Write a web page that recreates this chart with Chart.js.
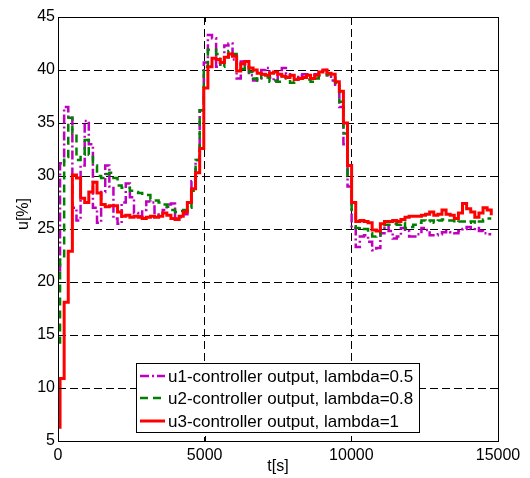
<!DOCTYPE html>
<html>
<head>
<meta charset="utf-8">
<script src="https://cdn.jsdelivr.net/npm/chart.js@4.4.1/dist/chart.umd.min.js"></script>
<style>
  html, body { margin: 0; padding: 0; background: #fff; }
  #wrap { width: 530px; height: 478px; }
</style>
</head>
<body>
<div id="wrap"><canvas id="chart" width="530" height="478"></canvas></div>
<script>
// controller outputs, sampled every 140 s (first hold is 70 s)
const u1 = [
  21.1, 31.2, 36.5, 35.5, 27.0, 25.8, 31.0, 35.2, 33.0, 27.0,
  25.6, 28.5, 31.0, 29.0, 26.0, 25.5, 27.5, 29.3, 28.0, 26.5,
  26.2, 26.8, 27.6, 27.5, 26.5, 26.3, 26.8, 27.3, 27.4, 26.0,
  26.1, 26.4, 27.5, 29.5, 31.5, 36.2, 40.7, 43.3, 43.0, 40.3,
  40.7, 42.3, 42.5, 41.0, 39.2, 40.8, 40.3, 39.5, 39.0, 39.2,
  40.0, 40.2, 39.3, 38.9, 39.5, 40.2, 39.6, 39.5, 39.3, 39.5,
  39.6, 39.6, 39.4, 39.6, 39.9, 40.0, 39.5, 39.0, 38.6, 36.5,
  33.0, 29.0, 25.1, 23.3, 24.3, 24.4, 23.8, 23.0, 23.2, 24.6,
  25.2, 24.8, 24.1, 24.3, 25.1, 24.8, 24.3, 24.3, 24.5, 25.1,
  24.9, 24.4, 24.4, 24.5, 24.7, 24.8, 24.7, 24.6, 24.8, 25.0,
  25.2, 25.0, 25.1, 24.8, 24.6, 24.5, 24.5
];
const u2 = [
  14.3, 22.3, 31.8, 35.5, 34.0, 31.5, 32.0, 33.4, 32.0, 31.0,
  30.0, 29.8, 30.2, 30.3, 29.8, 29.1, 28.9, 28.9, 28.6, 28.5,
  28.4, 28.2, 28.2, 27.8, 27.7, 27.5, 27.3, 27.1, 26.8, 26.6,
  26.7, 26.8, 27.0, 28.6, 31.5, 36.2, 40.3, 41.9, 41.9, 41.5,
  40.3, 41.2, 41.8, 41.5, 40.0, 40.1, 40.3, 39.8, 39.2, 39.0,
  39.6, 39.3, 38.9, 39.0, 38.9, 39.4, 39.2, 38.8, 38.9, 39.2,
  39.2, 39.1, 38.9, 39.2, 39.5, 39.5, 39.6, 39.5, 38.8, 37.0,
  34.0, 30.0, 26.5, 25.1, 25.2, 25.0, 24.6, 24.3, 24.4, 25.0,
  25.4, 25.4, 25.5, 25.4, 25.6, 25.1, 25.2, 25.4, 25.6, 25.8,
  25.7, 25.8, 25.6, 25.8, 25.9, 25.8, 25.8, 25.6, 25.7, 25.7,
  25.6, 25.7, 25.5, 25.7, 25.9, 26.0, 26.0
];
const u3 = [
   6.3, 10.9, 18.1, 22.9, 30.1, 29.8, 27.9, 27.5, 28.5, 29.4,
  28.4, 27.3, 27.1, 27.2, 27.2, 26.6, 26.2, 26.3, 26.1, 26.2,
  26.1, 26.0, 26.1, 26.2, 26.1, 26.2, 26.5, 26.3, 26.0, 25.9,
  26.2, 26.6, 27.5, 28.8, 30.3, 32.6, 38.3, 40.3, 41.1, 41.0,
  40.7, 41.2, 41.5, 41.3, 39.9, 40.6, 40.8, 40.2, 40.0, 39.7,
  39.6, 39.5, 39.7, 39.8, 39.6, 39.4, 39.3, 39.5, 39.1, 39.2,
  39.3, 39.5, 39.2, 39.5, 39.8, 40.0, 39.7, 39.6, 38.9, 38.0,
  35.0, 31.0, 27.5, 25.7, 25.8, 25.7, 25.6, 24.9, 24.8, 25.5,
  25.7, 25.7, 25.8, 25.7, 25.9, 26.1, 26.2, 26.2, 26.2, 26.3,
  26.4, 26.6, 26.3, 26.4, 26.8, 26.4, 26.3, 26.0, 26.5, 27.4,
  26.9, 26.6, 26.1, 26.5, 27.0, 26.8, 26.3
];
const seriesLabels = [
  'u1-controller output, lambda=0.5',
  'u2-controller output, lambda=0.8',
  'u3-controller output, lambda=1'
];
const xTicks = [0, 5000, 10000, 15000];
const yTicks = [5, 10, 15, 20, 25, 30, 35, 40, 45];

const sampleTime = u3.map((_, i) => (i === 0 ? 0 : 140 * i - 70));
const toPoints = arr => arr.map((v, i) => ({ x: sampleTime[i], y: v }));

const FONT = '"Liberation Sans", Arial, Helvetica, sans-serif';

// box, inward ticks, axis titles and legend, MATLAB style
const figureDecor = {
  id: 'figureDecor',
  afterDraw(chart) {
    const { ctx, chartArea: a, scales } = chart;
    ctx.save();
    ctx.strokeStyle = '#000';
    ctx.lineWidth = 1;
    ctx.setLineDash([]);
    ctx.strokeRect(Math.round(a.left) + 0.5, Math.round(a.top) + 0.5,
      Math.round(a.right - a.left), Math.round(a.bottom - a.top));

    ctx.beginPath();
    yTicks.forEach(v => {
      const y = Math.round(scales.y.getPixelForValue(v)) + 0.5;
      ctx.moveTo(a.left, y); ctx.lineTo(a.left + 5, y);
      ctx.moveTo(a.right, y); ctx.lineTo(a.right - 5, y);
    });
    xTicks.forEach(v => {
      const x = Math.round(scales.x.getPixelForValue(v)) + 0.5;
      ctx.moveTo(x, a.bottom); ctx.lineTo(x, a.bottom - 5);
      ctx.moveTo(x, a.top); ctx.lineTo(x, a.top + 5);
    });
    ctx.stroke();

    // axis titles
    ctx.fillStyle = '#000';
    ctx.font = '16px ' + FONT;
    ctx.textAlign = 'center';
    ctx.textBaseline = 'middle';
    ctx.fillText('t[s]', (a.left + a.right) / 2, 467);
    ctx.save();
    ctx.translate(24, 214);
    ctx.rotate(-Math.PI / 2);
    ctx.fillText('u[%]', 0, 0);
    ctx.restore();

    // legend box
    const box = { x: 136.5, y: 363.5, w: 283, h: 69 };
    ctx.fillStyle = '#fff';
    ctx.fillRect(box.x, box.y, box.w, box.h);
    ctx.strokeStyle = '#000';
    ctx.lineWidth = 1;
    ctx.strokeRect(box.x, box.y, box.w, box.h);
    const rows = [376, 398, 421];
    chart.data.datasets.forEach((ds, i) => {
      const y = rows[i];
      ctx.beginPath();
      ctx.strokeStyle = ds.borderColor;
      ctx.lineWidth = ds.borderWidth;
      ctx.setLineDash(ds.borderDash || []);
      ctx.moveTo(140, y);
      ctx.lineTo(165, y);
      ctx.stroke();
      ctx.setLineDash([]);
      ctx.fillStyle = '#000';
      ctx.font = '17px ' + FONT;
      ctx.textAlign = 'left';
      ctx.textBaseline = 'middle';
      ctx.fillText(ds.label, 168, y + 1);
    });
    ctx.restore();
  }
};

const lineBase = { pointRadius: 0, stepped: true, tension: 0, fill: false, borderJoinStyle: 'miter' };

new Chart(document.getElementById('chart'), {
  type: 'line',
  data: {
    datasets: [
      { ...lineBase, label: seriesLabels[0], data: toPoints(u1), borderColor: '#bf00bf', borderWidth: 2.5, borderDash: [9, 3, 2, 3], order: 3 },
      { ...lineBase, label: seriesLabels[1], data: toPoints(u2), borderColor: '#008000', borderWidth: 2.5, borderDash: [8, 5], order: 2 },
      { ...lineBase, label: seriesLabels[2], data: toPoints(u3), borderColor: '#ff0000', borderWidth: 3, order: 1 }
    ]
  },
  options: {
    responsive: false,
    animation: false,
    events: [],
    layout: { padding: { left: 0, top: 17, right: 32, bottom: 0 } },
    plugins: { legend: { display: false }, tooltip: { enabled: false } },
    scales: {
      x: {
        type: 'linear', min: 0, max: 15000,
        afterBuildTicks: s => { s.ticks = xTicks.map(v => ({ value: v })); },
        afterFit: s => { s.height = 37; },
        grid: { color: '#000', lineWidth: 1, drawTicks: false },
        border: { display: false, dash: [8, 4] },
        ticks: { color: '#000', padding: 5, maxRotation: 0, callback: v => String(v), font: { family: FONT, size: 16 } }
      },
      y: {
        min: 5, max: 45,
        afterBuildTicks: s => { s.ticks = yTicks.map(v => ({ value: v })); },
        afterFit: s => { s.width = 58; },
        grid: { color: '#000', lineWidth: 1, drawTicks: false },
        border: { display: false, dash: [8, 4] },
        ticks: { color: '#000', padding: 3, callback: v => String(v), font: { family: FONT, size: 16 } }
      }
    }
  },
  plugins: [figureDecor]
});
</script>
</body>
</html>
